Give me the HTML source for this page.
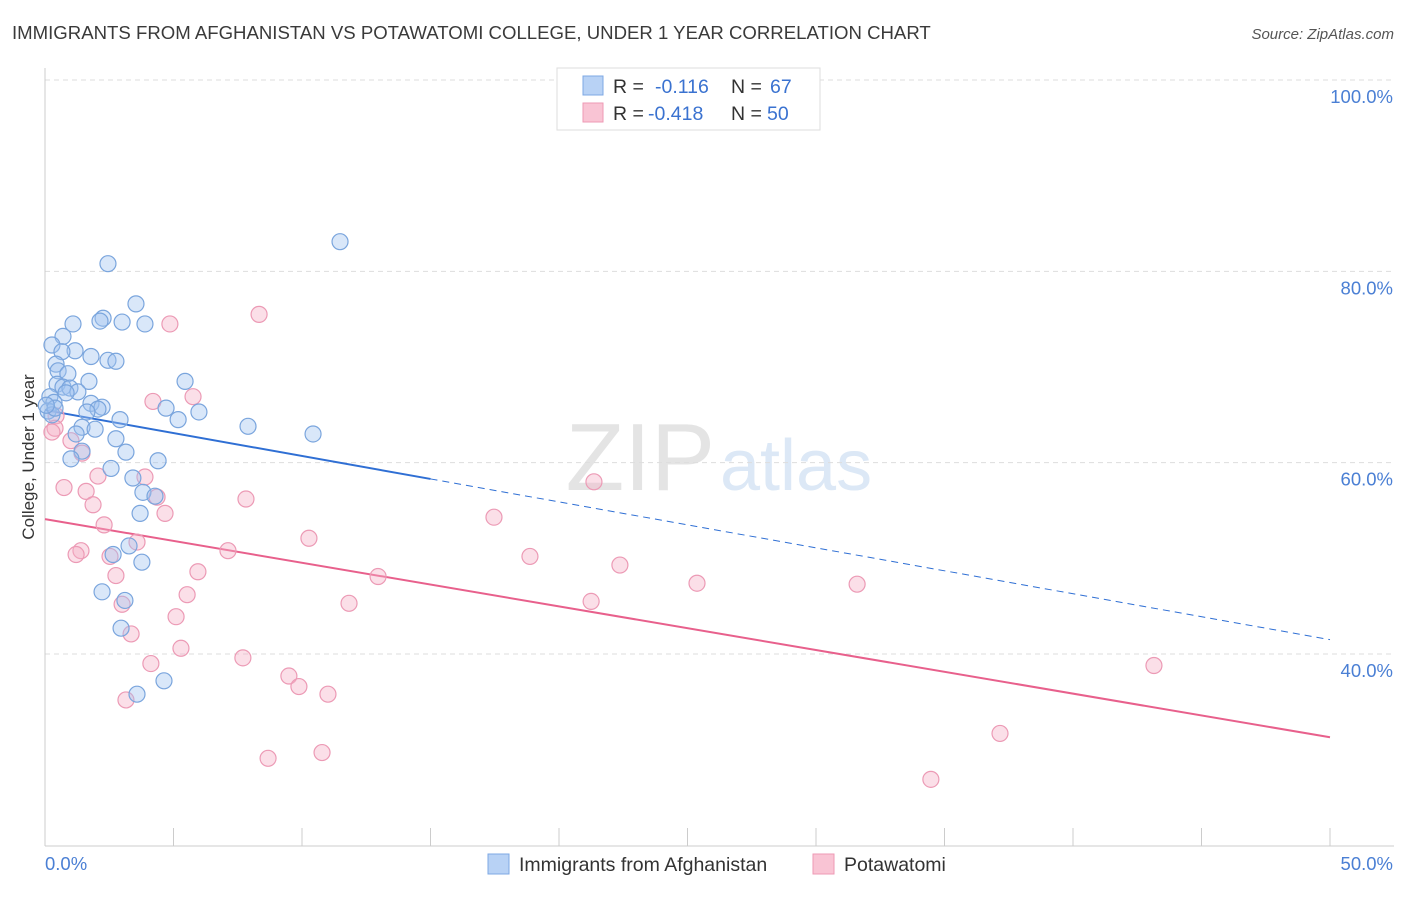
<!DOCTYPE html>
<html><head><meta charset="utf-8"><style>
body{margin:0;background:#fff;font-family:"Liberation Sans",sans-serif;}
svg text{font-family:"Liberation Sans",sans-serif;}
</style></head><body>
<svg id="chart" width="1406" height="892" xmlns="http://www.w3.org/2000/svg">
<text x="12" y="39" font-size="18.6" fill="#3a3a3a">IMMIGRANTS FROM AFGHANISTAN VS POTAWATOMI COLLEGE, UNDER 1 YEAR CORRELATION CHART</text>
<text x="1394" y="39" font-size="15" fill="#555" text-anchor="end" font-style="italic">Source: ZipAtlas.com</text>
<text x="715" y="490" font-size="96" text-anchor="end" fill="#e4e4e4" font-family="Liberation Serif">ZIP</text>
<text x="720" y="490" font-size="72" fill="#dce8f6">atlas</text>
<g id="grid"></g><g id="axes"></g><g id="lines"></g><g id="pts"></g>
<text transform="translate(34,457) rotate(-90)" font-size="17" fill="#333" text-anchor="middle">College, Under 1 year</text>
<g>
<rect x="557" y="68" width="263" height="62" fill="#fff" stroke="#ddd"/>
<rect x="583" y="76" width="20" height="19" fill="#b8d2f5" stroke="#7ea8e4"/>
<rect x="583" y="103" width="20" height="19" fill="#f9c4d4" stroke="#ee9ab4"/>
<text x="613" y="93" font-size="19.5" fill="#333">R = <tspan x="655" fill="#3a72d0">-0.116</tspan><tspan x="731">N = </tspan><tspan x="770" fill="#3a72d0">67</tspan></text>
<text x="613" y="120" font-size="19.5" fill="#333">R = <tspan x="648" fill="#3a72d0">-0.418</tspan><tspan x="731">N = </tspan><tspan x="767" fill="#3a72d0">50</tspan></text>
</g>
<g>
<rect x="488" y="854" width="21" height="20" fill="#b8d2f5" stroke="#7ea8e4"/>
<text x="519" y="871" font-size="19.5" fill="#333">Immigrants from Afghanistan</text>
<rect x="813" y="854" width="21" height="20" fill="#f9c4d4" stroke="#ee9ab4"/>
<text x="844" y="871" font-size="19.5" fill="#333">Potawatomi</text>
</g>
</svg>
<script>
const blueX=[11.48,2.45,3.54,2.26,2.14,1.09,3.00,3.89,0.70,0.27,1.17,0.66,1.79,2.45,2.76,0.43,0.51,0.89,5.45,1.71,0.47,0.70,0.97,1.28,0.82,0.19,0.35,1.79,2.22,2.06,4.71,5.99,0.12,0.27,1.63,2.92,5.18,7.90,1.44,1.95,1.21,10.43,2.76,1.44,3.15,1.01,4.40,2.57,3.42,3.81,4.28,3.70,3.27,2.65,3.77,2.22,3.11,2.96,4.63,3.58,0.39,0.05];
const blueY=[83.1,80.8,76.6,75.1,74.8,74.5,74.7,74.5,73.2,72.3,71.7,71.6,71.1,70.7,70.6,70.3,69.6,69.3,68.5,68.5,68.2,67.9,67.8,67.4,67.3,66.9,66.3,66.2,65.8,65.6,65.7,65.3,65.4,65.0,65.3,64.5,64.5,63.8,63.7,63.5,63.0,63.0,62.5,61.2,61.1,60.4,60.2,59.4,58.4,56.9,56.5,54.7,51.3,50.4,49.6,46.5,45.6,42.7,37.2,35.8,65.7,66.0];
const pinkX=[4.86,8.33,4.20,5.76,0.43,0.39,0.27,1.01,1.44,2.06,3.89,21.36,0.74,1.60,4.36,7.82,1.87,4.67,17.47,2.30,10.27,3.58,1.40,1.21,2.53,7.12,18.87,22.37,5.95,2.76,12.96,25.37,31.60,5.53,3.00,11.83,21.25,5.10,3.35,5.29,7.70,4.12,43.15,9.49,9.88,11.01,3.15,37.16,10.78,8.68,34.47];
const pinkY=[74.5,75.5,66.4,66.9,64.9,63.6,63.2,62.3,61.0,58.6,58.5,58.0,57.4,57.0,56.4,56.2,55.6,54.7,54.3,53.5,52.1,51.7,50.8,50.4,50.2,50.8,50.2,49.3,48.6,48.2,48.1,47.4,47.3,46.2,45.2,45.3,45.5,43.9,42.1,40.6,39.6,39.0,38.8,37.7,36.6,35.8,35.2,31.7,29.7,29.1,26.9];
const blueTrend=[65.5,41.5];
const pinkTrend=[54.1,31.3];
const yTicks=[100,80,60,40];
const NS="http://www.w3.org/2000/svg";
const sx=v=>45+v*25.7, sy=v=>1036.7-v*9.567;
function mk(tag,attrs,parent){const e=document.createElementNS(NS,tag);for(const k in attrs)e.setAttribute(k,attrs[k]);document.getElementById(parent).appendChild(e);return e;}
yTicks.forEach(t=>{
 const l=mk('line',{x1:45,x2:1394,y1:sy(t),y2:sy(t),stroke:'#ddd','stroke-dasharray':'5,4'},'grid');
 
 
 const tx=mk('text',{x:1393,y:sy(t)+23,'font-size':18.5,fill:'#4a7fd4','text-anchor':'end'},'grid');
 tx.textContent=t.toFixed(1)+'%';
 
 
});
let a=mk('line',{x1:45,x2:45,y1:68,y2:846,stroke:'#ccc'},'axes');


a=mk('line',{x1:45,x2:1394,y1:846,y2:846,stroke:'#ccc'},'axes');


for(let i=0;i<=10;i++){const t=mk('line',{x1:sx(i*5),x2:sx(i*5),y1:828,y2:846,stroke:'#ccc'},'axes');
 
 }
[[0,'0.0%','start',45],[50,'50.0%','end',1393]].forEach(d=>{const t=mk('text',{x:d[3],y:870,'font-size':18.5,fill:'#4a7fd4','text-anchor':d[2]},'axes');t.textContent=d[1];
 
 });
const bAt=x=>blueTrend[0]+(blueTrend[1]-blueTrend[0])*x/50;
let ln=mk('line',{x1:sx(0),y1:sy(bAt(0)),x2:sx(15),y2:sy(bAt(15)),stroke:'#2f6fd4','stroke-width':2},'lines');


ln=mk('line',{x1:sx(15),y1:sy(bAt(15)),x2:sx(50),y2:sy(bAt(50)),stroke:'#2f6fd4','stroke-width':1,'stroke-dasharray':'7,5'},'lines');


ln=mk('line',{x1:sx(0),y1:sy(pinkTrend[0]),x2:sx(50),y2:sy(pinkTrend[1]),stroke:'#e8608c','stroke-width':2},'lines');


pinkX.forEach((x,i)=>{const c=mk('circle',{cx:sx(x),cy:sy(pinkY[i]),r:8,fill:'rgba(246,175,198,0.4)',stroke:'#ec9ab5','stroke-width':1.2},'pts');
 
 });
blueX.forEach((x,i)=>{const c=mk('circle',{cx:sx(x),cy:sy(blueY[i]),r:8,fill:'rgba(160,195,240,0.4)',stroke:'#7aa5dd','stroke-width':1.2},'pts');
 
 });
</script>
</body></html>
